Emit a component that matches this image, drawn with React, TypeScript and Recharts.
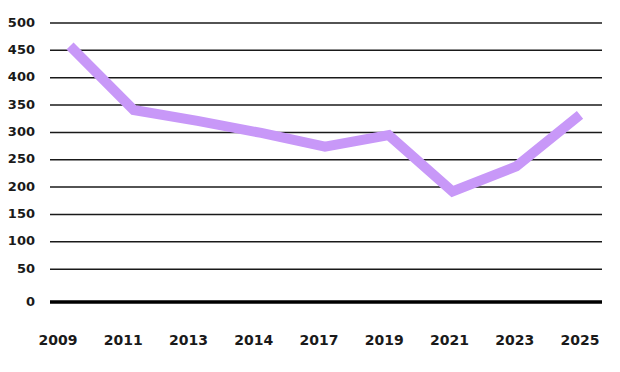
import React from 'react';
import { LineChart, Line, XAxis, YAxis, CartesianGrid } from 'recharts';

const years = ['2009', '2011', '2013', '2014', '2017', '2019', '2021', '2023', '2025'];
const values = [458, 341, 321, 299, 274, 295, 192, 238, 332];
const yTicks = [0, 50, 100, 150, 200, 250, 300, 350, 400, 450, 500];
const gridValues = [50, 100, 150, 200, 250, 300, 350, 400, 450, 500];

const data = years.map((year, i) => ({ year, value: values[i] }));

const FONT = '"DejaVu Sans", sans-serif';

const YTick = (props: any) => {
  const { x, y, payload } = props;
  const shift = payload.value === 0 ? 5 : -1;
  return (
    <text x={x} y={y + shift} textAnchor="end" dominantBaseline="central" fontFamily={FONT} fontWeight={700} fontSize={13} fill="#1a1a1a">
      {payload.value}
    </text>
  );
};

export default function App() {
  return (
    <div style={{ position: 'absolute', left: 0, top: 0, background: '#fff' }}>
      <LineChart width={620} height={372} data={data} margin={{ top: 23, right: 18, bottom: 10, left: 0 }}>
        <CartesianGrid vertical={false} horizontalValues={gridValues} stroke="#1a1a1a" strokeWidth={1.5} />
        <YAxis
          domain={[-10, 500]}
          ticks={yTicks}
          width={50}
          axisLine={false}
          tickLine={false}
          tickSize={0}
          tickMargin={15}
          tick={<YTick />}
          interval={0}
        />
        <XAxis
          dataKey="year"
          xAxisId="labels"
          padding={{ left: 8, right: 22 }}
          axisLine={{ stroke: '#000', strokeWidth: 3.5 }}
          tickLine={false}
          tickSize={0}
          tickMargin={33}
          height={60}
          interval={0}
          tick={{ fontFamily: FONT, fontWeight: 700, fontSize: 14, fill: '#1a1a1a' }}
        />
        <XAxis dataKey="year" xAxisId="line" hide padding={{ left: 20, right: 22 }} />
        <Line
          xAxisId="line"
          type="linear"
          dataKey="value"
          stroke="#c898f8"
          strokeWidth={10}
          strokeLinejoin="miter"
          strokeLinecap="butt"
          dot={false}
          activeDot={false}
          isAnimationActive={false}
        />
      </LineChart>
    </div>
  );
}
